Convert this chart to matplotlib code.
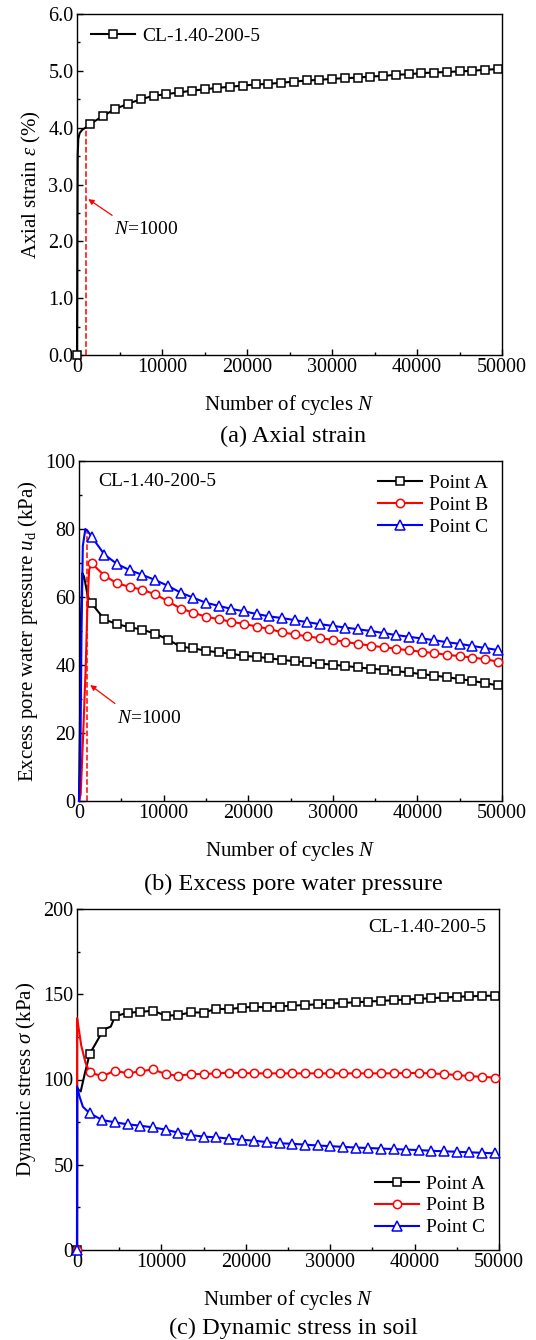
import numpy as np
import matplotlib
matplotlib.use("Agg")
import matplotlib.pyplot as plt
from matplotlib.ticker import MultipleLocator, FormatStrFormatter

plt.rcParams['font.family'] = ['Liberation Serif', 'DejaVu Serif']
plt.rcParams['mathtext.fontset'] = 'custom'
plt.rcParams['mathtext.rm'] = 'Liberation Serif'
plt.rcParams['mathtext.it'] = 'Liberation Serif:italic'
plt.rcParams['mathtext.bf'] = 'Liberation Serif:bold'

# ---------------- data ----------------
# (a) axial strain (%)
N_a = [0, 40, 80, 150, 300, 600, 1000, 1500, 3000, 4500, 6000, 7500, 9000, 10500, 12000,
       13500, 15000, 16500, 18000, 19500, 21000, 22500, 24000, 25500, 27000, 28500, 30000,
       31500, 33000, 34500, 36000, 37500, 39000, 40500, 42000, 43500, 45000, 46500, 48000, 49500]
strain_a = [0.0, 2.0, 3.5, 3.8, 3.9, 3.96, 4.0, 4.06, 4.20, 4.33, 4.42, 4.50, 4.56, 4.59, 4.62,
            4.65, 4.675, 4.70, 4.72, 4.74, 4.76, 4.77, 4.79, 4.81, 4.83, 4.84, 4.86,
            4.87, 4.88, 4.90, 4.91, 4.93, 4.94, 4.96, 4.97, 4.98, 4.99, 5.00, 5.02, 5.03]

# (b) excess pore water pressure (kPa)
N_grid = [1500, 3000, 4500, 6000, 7500, 9000, 10500, 12000, 13500, 15000, 16500, 18000,
          19500, 21000, 22500, 24000, 25500, 27000, 28500, 30000, 31500, 33000, 34500,
          36000, 37500, 39000, 40500, 42000, 43500, 45000, 46500, 48000, 49500]
N_bA_early = [0, 100, 250, 400, 600, 900, 1200]
ud_A_early = [0, 20, 55, 67, 66, 62, 59]
ud_A = [58.1, 53.4, 52.0, 51.1, 50.4, 49.2, 47.5, 45.4, 44.9, 44.2, 43.7, 43.3,
        42.7, 42.4, 42.0, 41.5, 41.1, 40.8, 40.4, 40.1, 39.7, 39.3, 38.9,
        38.6, 38.2, 37.8, 37.3, 36.9, 36.4, 35.9, 35.3, 34.7, 34.0]
N_bB_early = [0, 200, 500, 800, 1000, 1200]
ud_B_early = [0, 2, 20, 40, 58, 68]
ud_B = [69.9, 66.3, 64.0, 63.0, 62.1, 60.8, 58.8, 56.6, 55.4, 54.2, 53.5, 52.7,
        52.1, 51.3, 50.6, 49.6, 49.0, 48.4, 47.9, 47.4, 46.8, 46.2, 45.7,
        45.2, 44.8, 44.3, 43.9, 43.5, 43.0, 42.6, 42.2, 41.7, 41.0]
N_bC_early = [0, 150, 300, 450, 750, 1000]
ud_C_early = [0, 10, 50, 75, 80, 79.5]
ud_C = [77.7, 72.5, 69.7, 67.9, 66.5, 65.0, 63.3, 61.3, 59.8, 58.3, 57.4, 56.5,
        55.8, 55.0, 54.3, 53.8, 53.2, 52.6, 52.0, 51.5, 51.0, 50.5, 50.0,
        49.4, 48.8, 48.3, 47.8, 47.3, 46.7, 46.2, 45.6, 45.0, 44.4]

# (c) dynamic stress in soil (kPa)
N_cA_early = [0, 20, 200, 440, 900]
sig_A_early = [0, 95, 94, 93, 103]
N_cA_mid = [2200, 3500, 4000]
sig_A_mid = [121, 130, 131]
sig_A = [115, 128, 137, 139.2, 139.6, 140.4, 137.4, 137.8, 139.4, 139.2, 141.5, 141.2,
         142.2, 142.6, 142.4, 142.8, 143.3, 143.7, 144.1, 144.5, 144.9, 145.3, 145.7,
         146.1, 146.5, 146.9, 147.3, 147.7, 148.1, 148.5, 148.8, 149.0, 149.2]
N_cB_early = [0, 10, 200, 500, 1000]
sig_B_early = [0, 136, 130, 120, 110]
sig_B = [104.2, 101.9, 105.2, 103.6, 104.8, 105.9, 103.2, 102.1, 103.2, 103.2, 103.6, 104.0,
         103.8, 103.6, 103.6, 103.6, 103.6, 103.6, 103.6, 103.6, 103.6, 103.6, 103.6,
         103.6, 103.6, 103.8, 103.8, 103.6, 103.2, 102.6, 102.0, 101.6, 101.1]
N_cC_early = [0, 10, 300, 700]
sig_C_early = [0, 96, 90, 84]
sig_C = [80.2, 76.2, 74.9, 73.7, 72.9, 71.9, 70.6, 68.8, 67.4, 66.5, 66.1, 65.3,
         64.7, 64.1, 63.3, 62.6, 62.3, 61.8, 61.3, 60.9, 60.5, 60.1, 59.8,
         59.5, 59.2, 58.9, 58.6, 58.2, 57.9, 57.6, 57.3, 57.0, 56.7]

label_test = "CL-1.40-200-5"
point_labels = ["Point A", "Point B", "Point C"]

# ---------------- figure ----------------
W, H = 536, 1340
fig = plt.figure(figsize=(W / 100, H / 100), dpi=100)

def px_axes(l, r, t, b):
    return fig.add_axes([l / W, 1 - b / H, (r - l) / W, (b - t) / H])

FS_TICK = 14.5
FS_LAB = 15
FS_LEG = 14
FS_CAP = 17.5

def style(ax, ymax, ymaj, ymin, fmt):
    ax.set_xlim(0, 50000)
    ax.set_ylim(0, ymax)
    ax.xaxis.set_major_locator(MultipleLocator(10000))
    ax.xaxis.set_minor_locator(MultipleLocator(5000))
    ax.yaxis.set_major_locator(MultipleLocator(ymaj))
    ax.yaxis.set_minor_locator(MultipleLocator(ymin))
    ax.yaxis.set_major_formatter(FormatStrFormatter(fmt))
    ax.tick_params(which='both', direction='in', top=False, right=False,
                   labelsize=FS_TICK, width=1)
    ax.tick_params(which='major', length=4.5, pad=2.5)
    ax.tick_params(which='minor', length=2.5)
    for s in ax.spines.values():
        s.set_linewidth(1.0)
    ax.set_xlabel("Number of cycles $N$", fontsize=FS_LAB, labelpad=11)

def series(ax, xs, ys, color, marker, ms, label, mark_zero=False):
    xs = np.asarray(xs, float)
    ys = np.asarray(ys, float)
    idx = [i for i, x in enumerate(xs) if x % 1500 == 0 and (x > 0 or mark_zero)]
    ax.plot(xs, ys, color=color, lw=1.5, marker=marker, ms=ms, mfc='white',
            mec=color, mew=1.1, markevery=idx, label=label, clip_on=False, zorder=3)

def legend(ax, loc):
    ax.legend(loc=loc, frameon=False, fontsize=FS_LEG, handlelength=2.3,
              handletextpad=0.35, labelspacing=0.22, borderaxespad=0.3)

# ---- (a)
ax1 = px_axes(77, 502, 14, 355)
series(ax1, N_a, strain_a, 'black', 's', 5.2, label_test, mark_zero=True)
ax1.plot([1000, 1000], [0, 4.0], color='red', ls='--', lw=1.1, zorder=2)
ax1.annotate('', xy=(1050, 2.77), xytext=(4400, 2.43),
             arrowprops=dict(arrowstyle='-|>', color='red', lw=0.9, mutation_scale=8))
ax1.text(4400, 2.2, "$N$=1000", fontsize=FS_LEG, va='center', ha='left')
style(ax1, 6.0, 1.0, 0.5, '%.1f')
ax1.set_ylabel("Axial strain $\\varepsilon$ (%)", fontsize=FS_LAB, labelpad=4)
legend(ax1, 'upper left')
fig.text(0.5 + 25 / W, 1 - 436 / H, "(a) Axial strain", fontsize=FS_CAP,
         ha='center', va='center')

# ---- (b)
ax2 = px_axes(79, 502, 461, 801)
series(ax2, N_bA_early + N_grid, ud_A_early + ud_A, 'black', 's', 5.2, point_labels[0])
series(ax2, N_bB_early + N_grid, ud_B_early + ud_B, 'red', 'o', 6.0, point_labels[1])
series(ax2, N_bC_early + N_grid, ud_C_early + ud_C, 'blue', '^', 6.5, point_labels[2])
ax2.plot([1000, 1000], [0, 80], color='red', ls='--', lw=1.1, zorder=2)
ax2.annotate('', xy=(1060, 34.6), xytext=(4500, 28.2),
             arrowprops=dict(arrowstyle='-|>', color='red', lw=0.9, mutation_scale=8))
ax2.text(4500, 24.3, "$N$=1000", fontsize=FS_LEG, va='center', ha='left')
style(ax2, 100, 20, 10, '%d')
ax2.set_ylabel("Excess pore water pressure $u_{\\mathrm{d}}$ (kPa)", fontsize=FS_LAB, labelpad=4)
ax2.text(0.045, 0.94, label_test, transform=ax2.transAxes, fontsize=FS_LEG,
         ha='left', va='center')
legend(ax2, 'upper right')
fig.text(0.5 + 25 / W, 1 - 884 / H, "(b) Excess pore water pressure", fontsize=FS_CAP,
         ha='center', va='center')

# ---- (c)
ax3 = px_axes(77, 499, 909, 1250)
series(ax3, N_cA_early + [1500, 2200, 3000, 3500, 4000] + N_grid[2:],
       sig_A_early + [sig_A[0], sig_A_mid[0], sig_A[1], sig_A_mid[1], sig_A_mid[2]] + sig_A[2:],
       'black', 's', 5.2, point_labels[0], mark_zero=True)
series(ax3, N_cB_early + N_grid, sig_B_early + sig_B, 'red', 'o', 6.0, point_labels[1],
       mark_zero=True)
series(ax3, N_cC_early + N_grid, sig_C_early + sig_C, 'blue', '^', 6.5, point_labels[2],
       mark_zero=True)
style(ax3, 200, 50, 25, '%d')
ax3.set_ylabel("Dynamic stress $\\sigma$ (kPa)", fontsize=FS_LAB, labelpad=4)
ax3.text(0.97, 0.945, label_test, transform=ax3.transAxes, fontsize=FS_LEG,
         ha='right', va='center')
legend(ax3, 'lower right')
fig.text(0.5 + 25 / W, 1 - 1328 / H, "(c) Dynamic stress in soil", fontsize=FS_CAP,
         ha='center', va='center')

fig.savefig("out.png", dpi=100)
